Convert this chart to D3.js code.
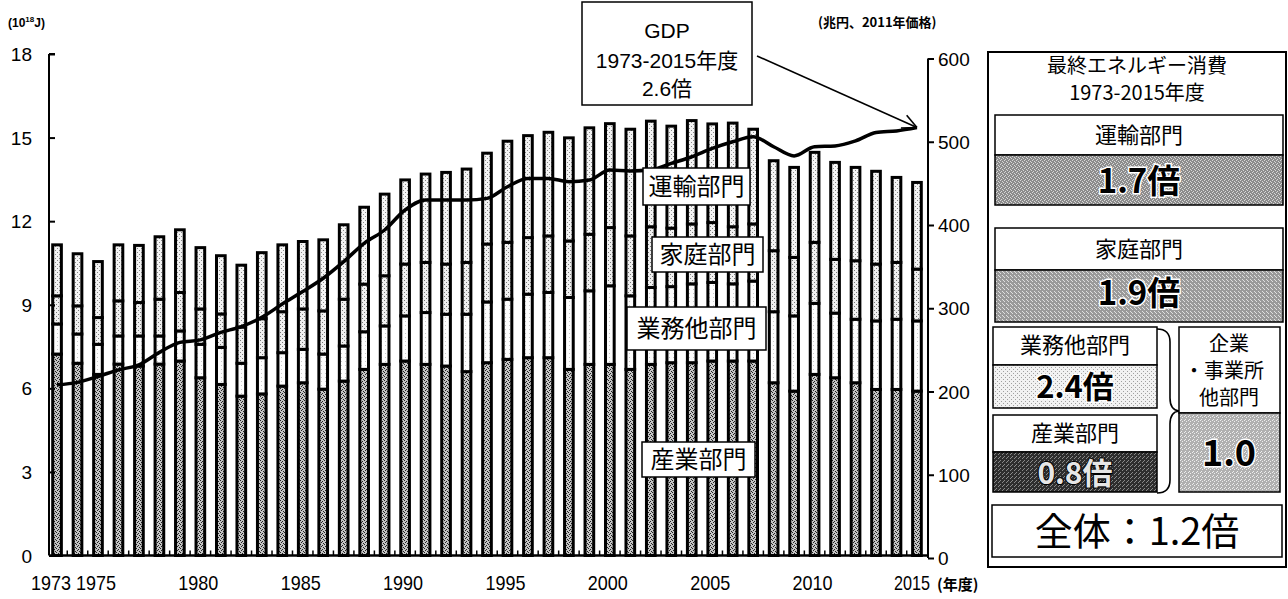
<!DOCTYPE html>
<html>
<head>
<meta charset="utf-8">
<script src="https://cdn.jsdelivr.net/npm/d3@7"></script>
<style>
  body { margin: 0; background: #fff; }
  svg { display: block; font-family: "Liberation Sans", Arial, "Noto Sans CJK JP", sans-serif; }
  .jp { font-family: "Noto Sans CJK JP", sans-serif; }
</style>
</head>
<body>
<svg id="chart" width="1288" height="599"></svg>
<script>
// fiscal years on the x axis
const years = [1973, 1974, 1975, 1976, 1977, 1978, 1979, 1980, 1981, 1982,
  1983, 1984, 1985, 1986, 1987, 1988, 1989, 1990, 1991, 1992,
  1993, 1994, 1995, 1996, 1997, 1998, 1999, 2000, 2001, 2002,
  2003, 2004, 2005, 2006, 2007, 2008, 2009, 2010, 2011, 2012,
  2013, 2014, 2015];

// final energy consumption by sector, 10^18 J
const industry = [7.23, 6.90, 6.50, 6.87, 6.80, 6.87, 6.98, 6.38, 6.14, 5.72,
  5.80, 6.08, 6.20, 5.97, 6.26, 6.68, 6.86, 6.98, 6.86, 6.80,
  6.60, 6.92, 7.04, 7.10, 7.10, 6.68, 6.86, 6.86, 6.68, 6.86,
  6.92, 6.92, 6.98, 6.98, 6.98, 6.20, 5.90, 6.50, 6.38, 6.20,
  5.96, 5.96, 5.90];
const business = [1.08, 1.05, 1.08, 1.01, 1.08, 1.01, 1.08, 1.20, 1.33, 1.18,
  1.30, 1.20, 1.20, 1.26, 1.26, 1.35, 1.38, 1.62, 1.86, 1.86,
  2.06, 2.18, 2.16, 2.28, 2.34, 2.58, 2.64, 2.82, 2.64, 2.76,
  2.73, 2.83, 2.82, 2.77, 2.87, 2.55, 2.70, 2.55, 2.32, 2.28,
  2.46, 2.52, 2.52];
const household = [1.01, 1.01, 0.96, 1.26, 1.20, 1.32, 1.38, 1.27, 1.20, 1.30,
  1.40, 1.47, 1.45, 1.55, 1.68, 1.71, 1.80, 1.86, 1.80, 1.80,
  1.86, 2.08, 2.04, 2.03, 2.03, 2.03, 2.03, 2.09, 2.15, 2.18,
  2.10, 2.15, 2.15, 2.05, 2.05, 2.19, 2.10, 2.19, 1.93, 2.10,
  2.04, 2.04, 1.86];
const transport = [1.83, 1.87, 2.01, 2.01, 2.05, 2.24, 2.25, 2.20, 2.09, 2.22,
  2.37, 2.40, 2.42, 2.55, 2.67, 2.76, 2.93, 3.02, 3.17, 3.29,
  3.35, 3.26, 3.63, 3.66, 3.72, 3.70, 3.82, 3.73, 3.83, 3.79,
  3.66, 3.71, 3.54, 3.72, 3.40, 3.23, 3.23, 3.23, 3.48, 3.35,
  3.33, 3.05, 3.11];

// real GDP, trillion yen (2011 prices)
const gdp = [208, 211, 218, 226, 232, 247, 259, 262, 271, 278,
  289, 305, 320, 336, 356, 378, 394, 418, 430, 430,
  430, 432, 446, 456, 456, 452, 454, 466, 465, 466,
  474, 482, 492, 500, 506, 494, 483, 494, 495, 501,
  511, 513, 517];

const leftTicks = [0, 3, 6, 9, 12, 15, 18];
const rightTicks = [0, 100, 200, 300, 400, 500, 600];
const labelYears = [1973, 1975, 1980, 1985, 1990, 1995, 2000, 2005, 2010, 2015];

const sectors = ['industry', 'business', 'household', 'transport'];

const table = years.map((y, i) => ({
  year: y,
  industry: industry[i],
  business: business[i],
  household: household[i],
  transport: transport[i],
  gdp: gdp[i]
}));

const svg = d3.select('#chart');
const defs = svg.append('defs');

// stipple textures imitating the printed screens
function addPattern(id, base, dots, dotColor) {
  const p = defs.append('pattern')
    .attr('id', id)
    .attr('width', 4).attr('height', 4)
    .attr('patternUnits', 'userSpaceOnUse');
  p.append('rect').attr('width', 4).attr('height', 4).attr('fill', base);
  dots.forEach(([dx, dy]) => {
    p.append('rect').attr('x', dx).attr('y', dy)
      .attr('width', 1).attr('height', 1).attr('fill', dotColor);
  });
}
addPattern('pInd', '#c4c4c4', [[0, 0], [2, 1], [1, 2], [3, 3]], '#222');
addPattern('pBus', '#fdfdfd', [[1, 1]], '#c8c8c8');
addPattern('pHou', '#f0f0f0', [[0, 0], [2, 2]], '#7a7a7a');
addPattern('pTra', '#f4f4f4', [[1, 0], [3, 2]], '#8a8a8a');
addPattern('pPanTra', '#8c8c8c', [[0, 0], [2, 1], [1, 3], [3, 2]], '#d8d8d8');
addPattern('pPanHou', '#9a9a9a', [[0, 1], [2, 3], [3, 0]], '#e0e0e0');
addPattern('pPanBus', '#f2f2f2', [[1, 1], [3, 3]], '#a0a0a0');
addPattern('pPanInd', '#2e2e2e', [[0, 0], [2, 2], [3, 1]], '#8a8a8a');
addPattern('pPanAll', '#b0b0b0', [[0, 0], [2, 1], [1, 3]], '#eeeeee');

const fills = {
  industry: 'url(#pInd)',
  business: 'url(#pBus)',
  household: 'url(#pHou)',
  transport: 'url(#pTra)'
};

const x = d3.scaleBand()
  .domain(years)
  .range([46.8, 927.2])
  .paddingInner(0.43)
  .paddingOuter(0.215);

const yL = d3.scaleLinear().domain([0, 18]).range([555.5, 54]);
const yR = d3.scaleLinear().domain([0, 600]).range([558, 58.5]);

const series = d3.stack().keys(sectors)(table);

// bars
const bw = x.bandwidth();
svg.append('g')
  .selectAll('g')
  .data(series)
  .enter()
  .append('g')
  .attr('fill', d => fills[d.key])
  .selectAll('rect')
  .data(d => d)
  .enter()
  .append('rect')
  .attr('x', d => x(d.data.year) + 1.5)
  .attr('y', d => yL(d[1]))
  .attr('width', bw - 3)
  .attr('height', d => yL(d[0]) - yL(d[1]))
  .attr('stroke', '#000')
  .attr('stroke-width', 3);

// axes
const axisL = svg.append('g')
  .attr('transform', 'translate(49,0)')
  .call(d3.axisRight(yL).tickValues(leftTicks).tickSize(6).tickFormat(''));
axisL.select('.domain').attr('stroke-width', 2).attr('d', `M0,${yL(18)}H6M0,${yL(18)}V${yL(0)}`);
axisL.selectAll('.tick line').attr('stroke-width', 2);

svg.append('g')
  .selectAll('text')
  .data(leftTicks)
  .enter()
  .append('text')
  .attr('x', 32)
  .attr('y', d => yL(d) + 7)
  .attr('text-anchor', 'end')
  .attr('font-size', 19)
  .text(d => d);

const axisR = svg.append('g')
  .attr('transform', 'translate(928,0)')
  .call(d3.axisRight(yR).tickValues(rightTicks).tickSize(6).tickFormat(''));
axisR.select('.domain').attr('stroke-width', 2).attr('d', `M0,${yR(600)}V${yR(0)}`);
axisR.selectAll('.tick line').attr('stroke-width', 2);

svg.append('g')
  .selectAll('text')
  .data(rightTicks)
  .enter()
  .append('text')
  .attr('x', 938)
  .attr('y', d => yR(d) + 7)
  .attr('font-size', 19)
  .text(d => d);

// baseline with small ticks between bars
svg.append('line')
  .attr('x1', 49).attr('x2', 928)
  .attr('y1', yL(0)).attr('y2', yL(0))
  .attr('stroke', '#000').attr('stroke-width', 2.5);
svg.append('g')
  .selectAll('line')
  .data(years.slice(1))
  .enter()
  .append('line')
  .attr('x1', d => x(d) - x.step() * x.paddingInner() / 2)
  .attr('x2', d => x(d) - x.step() * x.paddingInner() / 2)
  .attr('y1', yL(0)).attr('y2', yL(0) - 5)
  .attr('stroke', '#000').attr('stroke-width', 1.5);

// year labels are set narrow, as in the printed figure
svg.append('g')
  .selectAll('text')
  .data(labelYears)
  .enter()
  .append('text')
  .attr('x', d => x(d) + bw / 2 - (d === 1973 ? 6 : d === 2015 ? 5 : 2))
  .attr('y', 590)
  .attr('text-anchor', 'middle')
  .attr('font-size', 21)
  .attr('textLength', d => d === 2015 ? 36 : 40)
  .attr('lengthAdjust', 'spacingAndGlyphs')
  .text(d => d);

svg.append('text')
  .attr('x', 937).attr('y', 590)
  .attr('font-size', 15).attr('font-weight', 'bold')
  .attr('class', 'jp')
  .text('(年度)');

// unit labels
const uL = svg.append('text')
  .attr('x', 8).attr('y', 27)
  .attr('font-size', 12).attr('font-weight', 'bold');
uL.append('tspan').text('(10');
uL.append('tspan').attr('dy', -5).attr('font-size', 8).text('18');
uL.append('tspan').attr('dy', 5).text('J)');

svg.append('text')
  .attr('x', 818).attr('y', 27)
  .attr('font-size', 13).attr('font-weight', 'bold')
  .attr('class', 'jp')
  .text('(兆円、2011年価格)');

// GDP line
const line = d3.line()
  .x(d => x(d.year) + bw / 2)
  .y(d => yR(d.gdp))
  .curve(d3.curveMonotoneX);

svg.append('path')
  .datum(table)
  .attr('d', line)
  .attr('fill', 'none')
  .attr('stroke', '#000')
  .attr('stroke-width', 3.5);

// sector labels inside the plot
function labelBox(x0, y0, w, h, txt, size) {
  svg.append('rect')
    .attr('x', x0).attr('y', y0).attr('width', w).attr('height', h)
    .attr('fill', '#fff').attr('stroke', '#000').attr('stroke-width', 1.5);
  svg.append('text')
    .attr('class', 'jp')
    .attr('x', x0 + w / 2).attr('y', y0 + h / 2)
    .attr('dy', '0.36em')
    .attr('text-anchor', 'middle')
    .attr('font-size', size)
    .text(txt);
}
labelBox(643, 168, 107, 37, '運輸部門', 24);
labelBox(652, 237, 111, 35, '家庭部門', 24);
labelBox(627, 307, 139, 43, '業務他部門', 24);
labelBox(642, 442, 113, 35, '産業部門', 24);

// GDP box and arrow
svg.append('rect')
  .attr('x', 582).attr('y', 2).attr('width', 170).attr('height', 103)
  .attr('fill', '#fff').attr('stroke', '#000').attr('stroke-width', 1.5);
[['GDP', 30], ['1973-2015年度', 60], ['2.6倍', 88]].forEach(([t, cy]) => {
  svg.append('text')
    .attr('x', 667).attr('y', cy).attr('dy', '0.36em')
    .attr('text-anchor', 'middle')
    .attr('font-size', 21)
    .text(t);
});
const tipX = x(2015) + bw / 2, tipY = yR(517);
svg.append('line')
  .attr('x1', 757).attr('y1', 56).attr('x2', tipX).attr('y2', tipY)
  .attr('stroke', '#000').attr('stroke-width', 1.6);
const ang = Math.atan2(tipY - 56, tipX - 757);
[0.45, -0.45].forEach(a => {
  svg.append('line')
    .attr('x1', tipX).attr('y1', tipY)
    .attr('x2', tipX - 16 * Math.cos(ang + a))
    .attr('y2', tipY - 16 * Math.sin(ang + a))
    .attr('stroke', '#000').attr('stroke-width', 1.6);
});

// summary panel
function box(x0, y0, w, h, fill, sw) {
  return svg.append('rect')
    .attr('x', x0).attr('y', y0).attr('width', w).attr('height', h)
    .attr('fill', fill).attr('stroke', '#000').attr('stroke-width', sw);
}
function txt(cx, cy, t, size, opts = {}) {
  return svg.append('text')
    .attr('class', 'jp')
    .attr('x', cx).attr('y', cy).attr('dy', '0.36em')
    .attr('text-anchor', 'middle')
    .attr('font-size', size)
    .attr('font-weight', opts.weight || 'normal')
    .attr('fill', opts.fill || '#000')
    .attr('stroke', opts.stroke || 'none')
    .attr('stroke-width', opts.sw || 0)
    .attr('paint-order', 'stroke')
    .text(t);
}

box(988, 52, 298, 515, '#fff', 2);
txt(1137, 66, '最終エネルギー消費', 20);
txt(1137, 93, '1973-2015年度', 20);

box(995, 115, 288, 40, '#fff', 1.5);
box(995, 155, 288, 50, 'url(#pPanTra)', 1.5);
txt(1139, 135, '運輸部門', 22);
txt(1139, 181, '1.7倍', 33, { weight: 'bold', stroke: '#fff', sw: 3 });

box(995, 228, 288, 42, '#fff', 1.5);
box(995, 270, 288, 52, 'url(#pPanHou)', 1.5);
txt(1139, 249, '家庭部門', 22);
txt(1139, 293, '1.9倍', 33, { weight: 'bold', stroke: '#fff', sw: 3 });

box(993, 327, 164, 38, '#fff', 1.5);
box(993, 365, 164, 43, 'url(#pPanBus)', 1.5);
txt(1075, 345, '業務他部門', 22);
txt(1075, 387, '2.4倍', 31, { weight: 'bold', stroke: '#fff', sw: 3 });

box(993, 415, 164, 37, '#fff', 1.5);
box(993, 452, 164, 40, 'url(#pPanInd)', 1.5);
txt(1075, 433, '産業部門', 22);
txt(1075, 473, '0.8倍', 30, { weight: 'bold', fill: '#e6e6e6', stroke: '#000', sw: 2 });

// brace joining the two boxes
svg.append('path')
  .attr('d', 'M1157,329 Q1170,329 1170,342 V398 Q1170,410 1179,411 Q1170,412 1170,424 V480 Q1170,493 1157,493')
  .attr('fill', 'none').attr('stroke', '#000').attr('stroke-width', 1.6);

box(1179, 327, 101, 86, '#fff', 1.5);
box(1179, 413, 101, 79, 'url(#pPanAll)', 1.5);
txt(1229, 344, '企業', 20);
txt(1224, 371, '・事業所', 20);
txt(1229, 398, '他部門', 20);
txt(1229, 453, '1.0', 36, { weight: 'bold', stroke: '#fff', sw: 3 });

box(992, 505, 290, 52, '#fff', 1.5);
txt(1137, 531, '全体：1.2倍', 38);
</script>
</body>
</html>
